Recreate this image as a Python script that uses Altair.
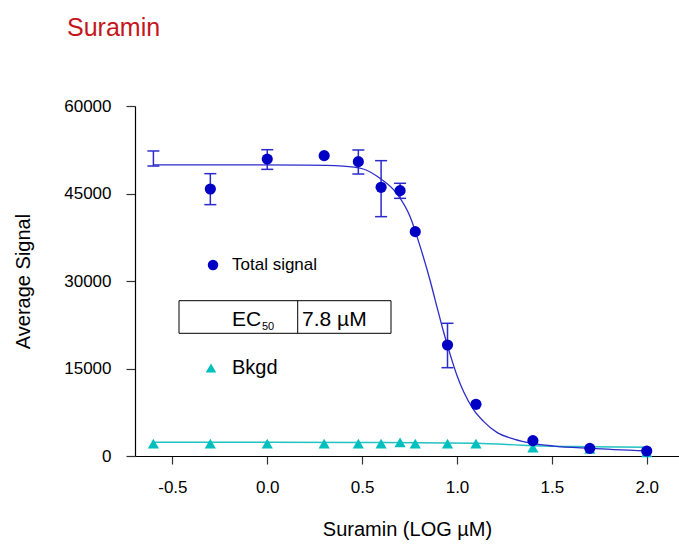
import altair as alt
import pandas as pd

FONT = "Liberation Sans Narrow, Liberation Sans, Arial, sans-serif"
BLUE = "#0000c4"
BLUE_LINE = "#2b2bcc"
CYAN = "#00bfbf"
CYAN_LINE = "#22c2c2"

# Total signal (blue circles), x in log uM
tot_x = [-0.3, 0.0, 0.3, 0.48, 0.6, 0.7, 0.78, 0.95, 1.1, 1.4, 1.7, 2.0]
tot_y = [45770, 50900, 51490, 50460, 46060, 45490, 38460, 19030, 8860, 2630, 1310, 860]

# Error bars for the total signal
err_x = [-0.6, -0.3, 0.0, 0.48, 0.6, 0.7, 0.95]
err_lo = [49710, 43090, 49140, 48340, 41030, 44170, 15140]
err_hi = [52290, 48400, 52510, 52460, 50630, 46750, 22750]

# Fitted dose-response curve
fit_x = [-0.6, -0.2, 0.2, 0.4, 0.506, 0.594, 0.682, 0.753, 0.806, 0.859, 0.894,
         0.929, 0.965, 1.0, 1.035, 1.088, 1.141, 1.212, 1.30, 1.397, 1.51, 1.705, 2.0]
fit_y = [49900, 49900, 49850, 49700, 49200, 47600, 45030, 41030, 35900, 30000, 25600,
         21300, 17300, 13800, 11000, 7900, 5900, 4000, 2910, 2170, 1710, 1310, 860]

# Background (cyan triangles)
bk_x = [-0.6, -0.3, 0.0, 0.3, 0.48, 0.6, 0.7, 0.78, 0.95, 1.1, 1.4, 1.7, 2.0]
bk_y = [2110, 2110, 2110, 2110, 2110, 2110, 2340, 2110, 2110, 2110, 1430, 1200, 630]

# Background fit line
bkfit_x = [-0.6, 0.0, 0.5, 0.8, 1.1, 1.4, 1.7, 2.0]
bkfit_y = [2350, 2350, 2320, 2260, 2170, 1770, 1600, 1490]

x_ticks = [-0.5, 0.0, 0.5, 1.0, 1.5, 2.0]
y_ticks = [0, 15000, 30000, 45000, 60000]

tot_df = pd.DataFrame({"x": tot_x, "y": tot_y})
err_df = pd.DataFrame({"x": err_x, "lo": err_lo, "hi": err_hi})
fit_df = pd.DataFrame({"x": fit_x, "y": fit_y})
bk_df = pd.DataFrame({"x": bk_x, "y": bk_y})
bkfit_df = pd.DataFrame({"x": bkfit_x, "y": bkfit_y})

xscale = alt.Scale(domain=[-0.697, 2.17], nice=False, zero=False)
yscale = alt.Scale(domain=[0, 60000], nice=False)

xaxis = alt.Axis(values=x_ticks, labelExpr="replace(format(datum.value, '.1f'), '\u2212', '-')",
                 title="Suramin (LOG \u00b5M)", tickSize=8, labelPadding=15, titlePadding=24,
                 grid=False)
yaxis = alt.Axis(values=y_ticks, format="d", title="Average Signal", tickSize=9,
                 labelPadding=15, titlePadding=30, grid=False)


def X(field="x"):
    return alt.X(f"{field}:Q", scale=xscale, axis=xaxis, title="Suramin (LOG \u00b5M)")


def Y(field="y"):
    return alt.Y(f"{field}:Q", scale=yscale, axis=yaxis, title="Average Signal")


fit_line = alt.Chart(fit_df).mark_line(interpolate="monotone", color=BLUE_LINE,
                                       strokeWidth=1.3).encode(x=X(), y=Y())
bk_line = alt.Chart(bkfit_df).mark_line(interpolate="monotone", color=CYAN_LINE,
                                        strokeWidth=1.5).encode(x=X(), y=Y())
err_v = alt.Chart(err_df).mark_rule(color=BLUE_LINE, strokeWidth=1.5).encode(
    x=X(), y=Y("lo"), y2="hi:Q")
cap_lo = alt.Chart(err_df).mark_rule(color=BLUE_LINE, strokeWidth=1.5, xOffset=-6,
                                     x2Offset=6).encode(x=X(), x2="x:Q", y=Y("lo"))
cap_hi = alt.Chart(err_df).mark_rule(color=BLUE_LINE, strokeWidth=1.5, xOffset=-6,
                                     x2Offset=6).encode(x=X(), x2="x:Q", y=Y("hi"))
bk_pts = alt.Chart(bk_df).mark_point(shape="triangle-up", filled=True, color=CYAN,
                                     size=125, opacity=1).encode(x=X(), y=Y())
tot_pts = alt.Chart(tot_df).mark_point(shape="circle", filled=True, color=BLUE,
                                       size=125, opacity=1).encode(x=X(), y=Y())

# In-plot legend
one = pd.DataFrame({"k": [0]})
leg_dot = alt.Chart(one).mark_point(shape="circle", filled=True, color=BLUE, size=110,
                                    opacity=1).encode(x=alt.value(78), y=alt.value(159))
leg_dot_t = alt.Chart(pd.DataFrame({"t": ["Total  signal"]})).mark_text(
    align="left", baseline="middle", font=FONT, fontSize=17, color="black").encode(
    x=alt.value(97), y=alt.value(159), text="t:N")
leg_tri = alt.Chart(one).mark_point(shape="triangle-up", filled=True, color=CYAN, size=110,
                                    opacity=1).encode(x=alt.value(76), y=alt.value(262))
leg_tri_t = alt.Chart(pd.DataFrame({"t": ["Bkgd"]})).mark_text(
    align="left", baseline="middle", font=FONT, fontSize=20, color="black").encode(
    x=alt.value(97), y=alt.value(262), text="t:N")
box = alt.Chart(one).mark_rect(fill="white", fillOpacity=0, stroke="black",
                               strokeWidth=1).encode(
    x=alt.value(44), x2=alt.value(256), y=alt.value(194.7), y2=alt.value(227.3))
box_div = alt.Chart(one).mark_rule(color="black", strokeWidth=1).encode(
    x=alt.value(162.7), y=alt.value(194.7), y2=alt.value(227.3))
ec_t = alt.Chart(pd.DataFrame({"t": ["EC"]})).mark_text(
    align="left", baseline="alphabetic", font=FONT, fontSize=21, color="black").encode(
    x=alt.value(97), y=alt.value(220), text="t:N")
ec_sub = alt.Chart(pd.DataFrame({"t": ["50"]})).mark_text(
    align="left", baseline="alphabetic", font=FONT, fontSize=11, color="black").encode(
    x=alt.value(127), y=alt.value(224), text="t:N")
ec_val = alt.Chart(pd.DataFrame({"t": ["7.8  \u00b5M"]})).mark_text(
    align="left", baseline="alphabetic", font=FONT, fontSize=21, color="black").encode(
    x=alt.value(167), y=alt.value(220), text="t:N")

chart = alt.layer(
    bk_line, fit_line, err_v, cap_lo, cap_hi, bk_pts, tot_pts,
    box, box_div, leg_dot, leg_dot_t, leg_tri, leg_tri_t, ec_t, ec_sub, ec_val
).properties(
    width=544, height=350,
    autosize="none",
    padding={"left": 135, "top": 106, "right": 0, "bottom": 94},
    title=alt.TitleParams("Suramin", anchor="start", frame="group", font=FONT,
                          fontSize=25, fontWeight="normal", color="#c4161c", dx=-68,
                          baseline="alphabetic", offset=36),
).configure_view(stroke=None).configure_axis(
    domainColor="black", domainWidth=1.2, tickColor="#333333", tickWidth=1.2,
    labelFont=FONT, labelFontSize=17, labelColor="black",
    titleFont=FONT, titleFontSize=20, titleFontWeight="normal", titleColor="black",
)

chart.save("out.html", embed_options={"renderer": "svg", "actions": False})
